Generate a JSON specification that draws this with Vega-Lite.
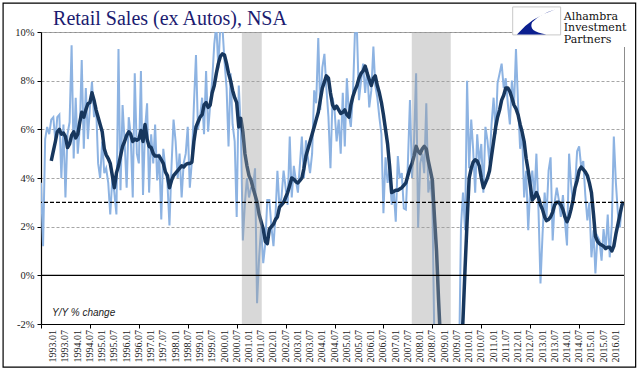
{
  "$schema": "https://vega.github.io/schema/vega-lite/v6.json",
  "width": 583,
  "height": 292,
  "autosize": {"type": "none"},
  "padding": {"left": 41, "top": 32, "right": 17, "bottom": 51},
  "background": "white",
  "config": {
    "view": {"stroke": "#8c8c8c", "strokeWidth": 1},
    "axis": {"domainColor": "#000", "tickColor": "#000", "labelColor": "#222", "labelFont": "Liberation Serif", "tickSize": 4, "domainWidth": 1.2},
    "axisX": {"labels": false, "grid": false},
    "axisY": {"labelFontSize": 10.5, "labelPadding": 3, "gridColor": "#a6a6a6", "gridDash": [3, 2], "gridWidth": 1}
  },
  "datasets": {
    "series": [
      {"d":"1992-07-01","l":3.8},{"d":"1992-08-01","l":1.2},{"d":"1992-09-01","l":5.6},{"d":"1992-10-01","l":6.1},{"d":"1992-11-01","l":5.8},{"d":"1992-12-01","l":6.4,"a":4.7},
      {"d":"1993-01-01","l":6.5,"a":5.1},{"d":"1993-02-01","l":5.5,"a":5.5},{"d":"1993-03-01","l":6.5,"a":5.9},{"d":"1993-04-01","l":6.6,"a":6.0},{"d":"1993-05-01","l":4.0,"a":5.8},{"d":"1993-06-01","l":6.2,"a":5.85},{"d":"1993-07-01","l":3.2,"a":5.7},{"d":"1993-08-01","l":5.8,"a":5.25},{"d":"1993-09-01","l":6.3,"a":5.4},{"d":"1993-10-01","l":9.45,"a":5.75},{"d":"1993-11-01","l":4.8,"a":5.9},{"d":"1993-12-01","l":7.3,"a":5.65},
      {"d":"1994-01-01","l":5.0,"a":5.8},{"d":"1994-02-01","l":6.1,"a":6.3},{"d":"1994-03-01","l":8.85,"a":6.7},{"d":"1994-04-01","l":5.2,"a":6.5},{"d":"1994-05-01","l":7.7,"a":6.8},{"d":"1994-06-01","l":5.6,"a":7.05},{"d":"1994-07-01","l":6.9,"a":7.1},{"d":"1994-08-01","l":7.95,"a":7.5},{"d":"1994-09-01","l":6.5,"a":7.2},{"d":"1994-10-01","l":7.0,"a":6.8},{"d":"1994-11-01","l":4.6,"a":6.5},{"d":"1994-12-01","l":4.0,"a":6.2},
      {"d":"1995-01-01","l":5.5,"a":5.9},{"d":"1995-02-01","l":4.2,"a":5.2},{"d":"1995-03-01","l":4.4,"a":4.95},{"d":"1995-04-01","l":3.8,"a":4.8},{"d":"1995-05-01","l":2.5,"a":4.6},{"d":"1995-06-01","l":4.0,"a":4.1},{"d":"1995-07-01","l":3.4,"a":3.6},{"d":"1995-08-01","l":2.5,"a":4.2},{"d":"1995-09-01","l":9.3,"a":4.5},{"d":"1995-10-01","l":3.5,"a":4.9},{"d":"1995-11-01","l":7.0,"a":5.3},{"d":"1995-12-01","l":5.5,"a":5.5},
      {"d":"1996-01-01","l":3.6,"a":5.75},{"d":"1996-02-01","l":6.5,"a":5.9},{"d":"1996-03-01","l":5.8,"a":5.8},{"d":"1996-04-01","l":3.2,"a":5.5},{"d":"1996-05-01","l":8.3,"a":5.6},{"d":"1996-06-01","l":5.0,"a":5.55},{"d":"1996-07-01","l":4.6,"a":5.6},{"d":"1996-08-01","l":8.4,"a":5.95},{"d":"1996-09-01","l":3.3,"a":5.5},{"d":"1996-10-01","l":6.0,"a":6.2},{"d":"1996-11-01","l":7.07,"a":5.6},{"d":"1996-12-01","l":3.4,"a":5.3},
      {"d":"1997-01-01","l":5.8,"a":5.25},{"d":"1997-02-01","l":4.6,"a":5.0},{"d":"1997-03-01","l":6.2,"a":4.9},{"d":"1997-04-01","l":3.9,"a":4.9},{"d":"1997-05-01","l":5.0,"a":4.9},{"d":"1997-06-01","l":2.3,"a":4.75},{"d":"1997-07-01","l":5.2,"a":4.6},{"d":"1997-08-01","l":4.4,"a":4.25},{"d":"1997-09-01","l":3.8,"a":4.1},{"d":"1997-10-01","l":2.05,"a":3.6},{"d":"1997-11-01","l":4.5,"a":3.9},{"d":"1997-12-01","l":6.4,"a":4.1},
      {"d":"1998-01-01","l":5.5,"a":4.2},{"d":"1998-02-01","l":4.0,"a":4.3},{"d":"1998-03-01","l":5.0,"a":4.4},{"d":"1998-04-01","l":3.2,"a":4.5},{"d":"1998-05-01","l":4.6,"a":4.45},{"d":"1998-06-01","l":5.0,"a":4.55},{"d":"1998-07-01","l":6.1,"a":4.6},{"d":"1998-08-01","l":3.6,"a":4.6},{"d":"1998-09-01","l":4.7,"a":4.65},{"d":"1998-10-01","l":7.0,"a":5.5},{"d":"1998-11-01","l":9.05,"a":6.1},{"d":"1998-12-01","l":6.0,"a":6.3},
      {"d":"1999-01-01","l":6.5,"a":6.5},{"d":"1999-02-01","l":7.3,"a":6.6},{"d":"1999-03-01","l":5.8,"a":7.0},{"d":"1999-04-01","l":8.4,"a":7.1},{"d":"1999-05-01","l":5.9,"a":6.9},{"d":"1999-06-01","l":7.0,"a":7.0},{"d":"1999-07-01","l":8.0,"a":7.5},{"d":"1999-08-01","l":9.5,"a":7.8},{"d":"1999-09-01","l":10.3,"a":8.3},{"d":"1999-10-01","l":8.5,"a":8.7},{"d":"1999-11-01","l":10.4,"a":9.0},{"d":"1999-12-01","l":10.2,"a":9.1},
      {"d":"2000-01-01","l":8.8,"a":9.05},{"d":"2000-02-01","l":7.7,"a":8.7},{"d":"2000-03-01","l":5.3,"a":8.3},{"d":"2000-04-01","l":8.3,"a":8.0},{"d":"2000-05-01","l":6.2,"a":7.6},{"d":"2000-06-01","l":5.5,"a":7.3},{"d":"2000-07-01","l":2.4,"a":7.1},{"d":"2000-08-01","l":7.8,"a":6.1},{"d":"2000-09-01","l":6.0,"a":6.45},{"d":"2000-10-01","l":1.43,"a":5.9},{"d":"2000-11-01","l":3.0,"a":5.0},{"d":"2000-12-01","l":4.0,"a":4.5},
      {"d":"2001-01-01","l":3.2,"a":4.1},{"d":"2001-02-01","l":3.6,"a":3.9},{"d":"2001-03-01","l":3.6,"a":3.6},{"d":"2001-04-01","l":4.4,"a":3.3},{"d":"2001-05-01","l":-1.15,"a":3.0},{"d":"2001-06-01","l":0.75,"a":2.5},{"d":"2001-07-01","l":2.0,"a":2.2},{"d":"2001-08-01","l":0.5,"a":1.9},{"d":"2001-09-01","l":1.3,"a":1.4},{"d":"2001-10-01","l":3.1,"a":1.3},{"d":"2001-11-01","l":3.1,"a":1.9},{"d":"2001-12-01","l":2.0,"a":2.0},
      {"d":"2002-01-01","l":1.2,"a":2.1},{"d":"2002-02-01","l":2.5,"a":2.3},{"d":"2002-03-01","l":4.3,"a":2.4},{"d":"2002-04-01","l":2.8,"a":2.8},{"d":"2002-05-01","l":3.2,"a":2.9},{"d":"2002-06-01","l":4.3,"a":3.0},{"d":"2002-07-01","l":3.6,"a":3.2},{"d":"2002-08-01","l":2.9,"a":3.4},{"d":"2002-09-01","l":5.7,"a":3.7},{"d":"2002-10-01","l":3.2,"a":4.0},{"d":"2002-11-01","l":4.5,"a":3.95},{"d":"2002-12-01","l":3.9,"a":3.85},
      {"d":"2003-01-01","l":3.4,"a":3.8},{"d":"2003-02-01","l":4.6,"a":3.9},{"d":"2003-03-01","l":5.7,"a":4.0},{"d":"2003-04-01","l":4.0,"a":4.4},{"d":"2003-05-01","l":5.55,"a":4.9},{"d":"2003-06-01","l":4.8,"a":5.2},{"d":"2003-07-01","l":4.2,"a":5.5},{"d":"2003-08-01","l":5.0,"a":5.8},{"d":"2003-09-01","l":7.6,"a":6.1},{"d":"2003-10-01","l":7.07,"a":6.4},{"d":"2003-11-01","l":9.75,"a":6.7},{"d":"2003-12-01","l":6.8,"a":7.2},
      {"d":"2004-01-01","l":8.55,"a":7.7},{"d":"2004-02-01","l":9.1,"a":7.95},{"d":"2004-03-01","l":7.7,"a":8.2},{"d":"2004-04-01","l":6.5,"a":8.1},{"d":"2004-05-01","l":4.4,"a":7.5},{"d":"2004-06-01","l":7.3,"a":7.0},{"d":"2004-07-01","l":6.8,"a":6.85},{"d":"2004-08-01","l":5.5,"a":6.95},{"d":"2004-09-01","l":6.4,"a":6.8},{"d":"2004-10-01","l":5.0,"a":6.65},{"d":"2004-11-01","l":7.5,"a":6.7},{"d":"2004-12-01","l":5.3,"a":6.8},
      {"d":"2005-01-01","l":8.1,"a":6.6},{"d":"2005-02-01","l":6.6,"a":6.5},{"d":"2005-03-01","l":6.1,"a":7.0},{"d":"2005-04-01","l":7.4,"a":7.35},{"d":"2005-05-01","l":9.95,"a":7.6},{"d":"2005-06-01","l":10.0,"a":7.8},{"d":"2005-07-01","l":7.2,"a":8.1},{"d":"2005-08-01","l":8.0,"a":8.3},{"d":"2005-09-01","l":8.7,"a":8.4},{"d":"2005-10-01","l":7.5,"a":8.6},{"d":"2005-11-01","l":8.5,"a":8.3},{"d":"2005-12-01","l":6.9,"a":8.05},
      {"d":"2006-01-01","l":7.6,"a":7.8},{"d":"2006-02-01","l":9.4,"a":8.1},{"d":"2006-03-01","l":7.8,"a":8.2},{"d":"2006-04-01","l":7.3,"a":7.8},{"d":"2006-05-01","l":6.5,"a":7.5},{"d":"2006-06-01","l":5.8,"a":7.1},{"d":"2006-07-01","l":2.55,"a":6.6},{"d":"2006-08-01","l":4.85,"a":6.0},{"d":"2006-09-01","l":3.8,"a":5.4},{"d":"2006-10-01","l":4.3,"a":4.5},{"d":"2006-11-01","l":2.9,"a":3.4},{"d":"2006-12-01","l":3.5,"a":3.45},
      {"d":"2007-01-01","l":2.2,"a":3.5},{"d":"2007-02-01","l":4.9,"a":3.5},{"d":"2007-03-01","l":4.0,"a":3.55},{"d":"2007-04-01","l":4.2,"a":3.6},{"d":"2007-05-01","l":2.75,"a":3.7},{"d":"2007-06-01","l":2.7,"a":3.8},{"d":"2007-07-01","l":4.6,"a":4.1},{"d":"2007-08-01","l":7.2,"a":4.4},{"d":"2007-09-01","l":4.0,"a":4.6},{"d":"2007-10-01","l":5.5,"a":4.9},{"d":"2007-11-01","l":8.3,"a":5.3},{"d":"2007-12-01","l":1.97,"a":5.1},
      {"d":"2008-01-01","l":4.6,"a":5.0},{"d":"2008-02-01","l":5.0,"a":5.2},{"d":"2008-03-01","l":4.2,"a":5.3},{"d":"2008-04-01","l":7.07,"a":5.2},{"d":"2008-05-01","l":3.4,"a":4.7},{"d":"2008-06-01","l":3.9,"a":4.3},{"d":"2008-07-01","l":3.0,"a":3.9},{"d":"2008-08-01","l":-3.0,"a":2.4},{"d":"2008-09-01","l":-6.5,"a":1.0},{"d":"2008-10-01","l":-8,"a":-1.0},{"d":"2008-11-01","l":-9,"a":-2.8},{"d":"2008-12-01","l":-9.5,"a":-4.6},
      {"d":"2009-01-01","l":-10,"a":-6},{"d":"2009-02-01","l":-9.5,"a":-7},{"d":"2009-03-01","l":-9,"a":-7.5},{"d":"2009-04-01","l":-8.5,"a":-7.5},{"d":"2009-05-01","l":-8,"a":-7},{"d":"2009-06-01","l":-7,"a":-6.5},{"d":"2009-07-01","l":-6,"a":-6},{"d":"2009-08-01","l":-4,"a":-5.2},{"d":"2009-09-01","l":2.0,"a":-3.6},{"d":"2009-10-01","l":3.4,"a":-1.8},{"d":"2009-11-01","l":1.85,"a":0.3},{"d":"2009-12-01","l":8.0,"a":2.2},
      {"d":"2010-01-01","l":4.4,"a":4.0},{"d":"2010-02-01","l":6.4,"a":4.4},{"d":"2010-03-01","l":5.2,"a":4.65},{"d":"2010-04-01","l":3.4,"a":4.75},{"d":"2010-05-01","l":5.8,"a":4.7},{"d":"2010-06-01","l":4.6,"a":4.5},{"d":"2010-07-01","l":5.4,"a":4.0},{"d":"2010-08-01","l":3.4,"a":3.6},{"d":"2010-09-01","l":6.1,"a":3.8},{"d":"2010-10-01","l":5.55,"a":4.0},{"d":"2010-11-01","l":4.6,"a":4.3},{"d":"2010-12-01","l":6.2,"a":4.9},
      {"d":"2011-01-01","l":7.3,"a":5.5},{"d":"2011-02-01","l":5.8,"a":6.1},{"d":"2011-03-01","l":7.9,"a":6.5},{"d":"2011-04-01","l":8.3,"a":6.8},{"d":"2011-05-01","l":8.7,"a":7.2},{"d":"2011-06-01","l":7.7,"a":7.4},{"d":"2011-07-01","l":8.1,"a":7.7},{"d":"2011-08-01","l":7.07,"a":7.7},{"d":"2011-09-01","l":6.2,"a":7.55},{"d":"2011-10-01","l":8.0,"a":7.3},{"d":"2011-11-01","l":6.9,"a":7.0},{"d":"2011-12-01","l":9.3,"a":6.85},
      {"d":"2012-01-01","l":7.07,"a":6.6},{"d":"2012-02-01","l":5.2,"a":6.2},{"d":"2012-03-01","l":6.0,"a":5.9},{"d":"2012-04-01","l":3.2,"a":5.5},{"d":"2012-05-01","l":4.3,"a":4.8},{"d":"2012-06-01","l":1.85,"a":4.3},{"d":"2012-07-01","l":3.6,"a":3.7},{"d":"2012-08-01","l":4.3,"a":3.1},{"d":"2012-09-01","l":3.2,"a":3.2},{"d":"2012-10-01","l":5.0,"a":3.4},{"d":"2012-11-01","l":2.7,"a":3.2},{"d":"2012-12-01","l":-0.33,"a":2.9},
      {"d":"2013-01-01","l":1.7,"a":2.7},{"d":"2013-02-01","l":3.4,"a":2.4},{"d":"2013-03-01","l":2.4,"a":2.25},{"d":"2013-04-01","l":4.3,"a":2.3},{"d":"2013-05-01","l":4.85,"a":2.4},{"d":"2013-06-01","l":1.43,"a":2.6},{"d":"2013-07-01","l":3.0,"a":2.9},{"d":"2013-08-01","l":3.6,"a":3.0},{"d":"2013-09-01","l":3.1,"a":3.0},{"d":"2013-10-01","l":2.4,"a":2.9},{"d":"2013-11-01","l":3.3,"a":2.7},{"d":"2013-12-01","l":2.2,"a":2.4},
      {"d":"2014-01-01","l":1.23,"a":2.2},{"d":"2014-02-01","l":5.0,"a":2.4},{"d":"2014-03-01","l":3.8,"a":2.7},{"d":"2014-04-01","l":2.9,"a":3.1},{"d":"2014-05-01","l":3.6,"a":3.6},{"d":"2014-06-01","l":5.1,"a":3.9},{"d":"2014-07-01","l":5.3,"a":4.3},{"d":"2014-08-01","l":4.45,"a":4.45},{"d":"2014-09-01","l":4.7,"a":4.35},{"d":"2014-10-01","l":3.3,"a":4.25},{"d":"2014-11-01","l":2.26,"a":4.1},{"d":"2014-12-01","l":3.0,"a":3.8},
      {"d":"2015-01-01","l":0.74,"a":3.4},{"d":"2015-02-01","l":1.85,"a":2.5},{"d":"2015-03-01","l":0.08,"a":1.6},{"d":"2015-04-01","l":1.6,"a":1.4},{"d":"2015-05-01","l":1.43,"a":1.3},{"d":"2015-06-01","l":0.6,"a":1.25},{"d":"2015-07-01","l":1.9,"a":1.2},{"d":"2015-08-01","l":1.03,"a":1.1},{"d":"2015-09-01","l":2.5,"a":1.15},{"d":"2015-10-01","l":0.74,"a":1.15},{"d":"2015-11-01","l":2.1,"a":1.0},{"d":"2015-12-01","l":5.7,"a":1.2},
      {"d":"2016-01-01","l":3.8,"a":1.7},{"d":"2016-02-01","l":2.5,"a":2.1},{"d":"2016-03-01","l":1.97,"a":2.5},{"d":"2016-04-01","l":3.0,"a":2.9},{"d":"2016-05-01","l":2.9,"a":3.0}
    ],
    "bands": [
      {"s": "2000-09-16", "e": "2001-07-10"},
      {"s": "2007-08-28", "e": "2009-04-01"}
    ],
    "ticks": [
      {"t":"1993-01-01","lab":"1993.01"},{"t":"1993-07-01","lab":"1993.07"},{"t":"1994-01-01","lab":"1994.01"},{"t":"1994-07-01","lab":"1994.07"},
      {"t":"1995-01-01","lab":"1995.01"},{"t":"1995-07-01","lab":"1995.07"},{"t":"1996-01-01","lab":"1996.01"},{"t":"1996-07-01","lab":"1996.07"},
      {"t":"1997-01-01","lab":"1997.01"},{"t":"1997-07-01","lab":"1997.07"},{"t":"1998-01-01","lab":"1998.01"},{"t":"1998-07-01","lab":"1998.07"},
      {"t":"1999-01-01","lab":"1999.01"},{"t":"1999-07-01","lab":"1999.07"},{"t":"2000-01-01","lab":"2000.01"},{"t":"2000-07-01","lab":"2000.07"},
      {"t":"2001-01-01","lab":"2001.01"},{"t":"2001-07-01","lab":"2001.07"},{"t":"2002-01-01","lab":"2002.01"},{"t":"2002-07-01","lab":"2002.07"},
      {"t":"2003-01-01","lab":"2003.01"},{"t":"2003-07-01","lab":"2003.07"},{"t":"2004-01-01","lab":"2004.01"},{"t":"2004-07-01","lab":"2004.07"},
      {"t":"2005-01-01","lab":"2005.01"},{"t":"2005-07-01","lab":"2005.07"},{"t":"2006-01-01","lab":"2006.01"},{"t":"2006-07-01","lab":"2006.07"},
      {"t":"2007-01-01","lab":"2007.01"},{"t":"2007-07-01","lab":"2007.07"},{"t":"2008-01-01","lab":"2008.01"},{"t":"2008-07-01","lab":"2008.07"},
      {"t":"2009-01-01","lab":"2009.01"},{"t":"2009-07-01","lab":"2009.07"},{"t":"2010-01-01","lab":"2010.01"},{"t":"2010-07-01","lab":"2010.07"},
      {"t":"2011-01-01","lab":"2011.01"},{"t":"2011-07-01","lab":"2011.07"},{"t":"2012-01-01","lab":"2012.01"},{"t":"2012-07-01","lab":"2012.07"},
      {"t":"2013-01-01","lab":"2013.01"},{"t":"2013-07-01","lab":"2013.07"},{"t":"2014-01-01","lab":"2014.01"},{"t":"2014-07-01","lab":"2014.07"},
      {"t":"2015-01-01","lab":"2015.01"},{"t":"2015-07-01","lab":"2015.07"},{"t":"2016-01-01","lab":"2016.01"}
    ]
  },
  "layer": [
    {
      "data": {"name": "series"},
      "mark": {"type": "line", "color": "#8db3e2", "strokeWidth": 2, "clip": true},
      "encoding": {
        "x": {
          "field": "d", "type": "temporal", "title": null,
          "scale": {"type": "utc", "nice": false, "domain": [{"year": 1992, "month": 7, "date": 1, "utc": true}, {"year": 2016, "month": 5, "date": 1, "utc": true}]},
          "axis": {
            "labels": false,
            "values": [
              {"year":1992,"month":7,"date":1,"utc":true},
              {"year":1993,"month":1,"date":1,"utc":true},{"year":1993,"month":7,"date":1,"utc":true},
              {"year":1994,"month":1,"date":1,"utc":true},{"year":1994,"month":7,"date":1,"utc":true},
              {"year":1995,"month":1,"date":1,"utc":true},{"year":1995,"month":7,"date":1,"utc":true},
              {"year":1996,"month":1,"date":1,"utc":true},{"year":1996,"month":7,"date":1,"utc":true},
              {"year":1997,"month":1,"date":1,"utc":true},{"year":1997,"month":7,"date":1,"utc":true},
              {"year":1998,"month":1,"date":1,"utc":true},{"year":1998,"month":7,"date":1,"utc":true},
              {"year":1999,"month":1,"date":1,"utc":true},{"year":1999,"month":7,"date":1,"utc":true},
              {"year":2000,"month":1,"date":1,"utc":true},{"year":2000,"month":7,"date":1,"utc":true},
              {"year":2001,"month":1,"date":1,"utc":true},{"year":2001,"month":7,"date":1,"utc":true},
              {"year":2002,"month":1,"date":1,"utc":true},{"year":2002,"month":7,"date":1,"utc":true},
              {"year":2003,"month":1,"date":1,"utc":true},{"year":2003,"month":7,"date":1,"utc":true},
              {"year":2004,"month":1,"date":1,"utc":true},{"year":2004,"month":7,"date":1,"utc":true},
              {"year":2005,"month":1,"date":1,"utc":true},{"year":2005,"month":7,"date":1,"utc":true},
              {"year":2006,"month":1,"date":1,"utc":true},{"year":2006,"month":7,"date":1,"utc":true},
              {"year":2007,"month":1,"date":1,"utc":true},{"year":2007,"month":7,"date":1,"utc":true},
              {"year":2008,"month":1,"date":1,"utc":true},{"year":2008,"month":7,"date":1,"utc":true},
              {"year":2009,"month":1,"date":1,"utc":true},{"year":2009,"month":7,"date":1,"utc":true},
              {"year":2010,"month":1,"date":1,"utc":true},{"year":2010,"month":7,"date":1,"utc":true},
              {"year":2011,"month":1,"date":1,"utc":true},{"year":2011,"month":7,"date":1,"utc":true},
              {"year":2012,"month":1,"date":1,"utc":true},{"year":2012,"month":7,"date":1,"utc":true},
              {"year":2013,"month":1,"date":1,"utc":true},{"year":2013,"month":7,"date":1,"utc":true},
              {"year":2014,"month":1,"date":1,"utc":true},{"year":2014,"month":7,"date":1,"utc":true},
              {"year":2015,"month":1,"date":1,"utc":true},{"year":2015,"month":7,"date":1,"utc":true},
              {"year":2016,"month":1,"date":1,"utc":true}
            ]
          }
        },
        "y": {
          "field": "l", "type": "quantitative", "title": null,
          "scale": {"domain": [-2, 10], "nice": false, "zero": false},
          "axis": {"values": [-2, 0, 2, 4, 6, 8, 10], "labelExpr": "datum.value + '%'"}
        }
      }
    },
    {
      "data": {"name": "series"},
      "mark": {"type": "line", "color": "#17375e", "strokeWidth": 3.5, "clip": true, "strokeJoin": "round"},
      "encoding": {
        "x": {"field": "d", "type": "temporal", "title": null},
        "y": {"field": "a", "type": "quantitative", "title": null}
      }
    },
    {
      "data": {"name": "bands"},
      "mark": {"type": "rect", "color": "#9d9d9d", "opacity": 0.4},
      "encoding": {
        "x": {"field": "s", "type": "temporal", "title": null},
        "x2": {"field": "e"}
      }
    },
    {
      "data": {"values": [{}]},
      "mark": {"type": "rule", "color": "#000", "strokeWidth": 1.3},
      "encoding": {"y": {"datum": 0, "type": "quantitative"}}
    },
    {
      "data": {"values": [{}]},
      "mark": {"type": "rule", "color": "#000", "strokeWidth": 1.3, "strokeDash": [4, 2]},
      "encoding": {"y": {"datum": 3, "type": "quantitative"}}
    },
    {
      "data": {"name": "ticks"},
      "mark": {"type": "text", "angle": 270, "align": "right", "baseline": "middle", "font": "Liberation Serif", "fontSize": 10, "color": "#222"},
      "encoding": {
        "x": {"field": "t", "type": "temporal", "title": null},
        "y": {"datum": -2.25, "type": "quantitative"},
        "text": {"field": "lab", "type": "nominal"}
      }
    },
    {
      "data": {"values": [{}]},
      "mark": {"type": "text", "text": "Y/Y % change", "font": "Liberation Sans", "fontStyle": "italic", "fontSize": 10, "align": "left", "baseline": "alphabetic", "color": "#222"},
      "encoding": {
        "x": {"datum": {"year": 1992, "month": 12, "date": 13, "utc": true}, "type": "temporal"},
        "y": {"datum": -1.67, "type": "quantitative"}
      }
    },
    {
      "data": {"values": [{}]},
      "mark": {"type": "rect", "fill": "white", "strokeWidth": 0},
      "encoding": {
        "x": {"datum": {"year": 2011, "month": 10, "date": 13, "utc": true}, "type": "temporal"},
        "x2": {"datum": {"year": 2016, "month": 10, "date": 6, "utc": true}},
        "y": {"datum": 11.17, "type": "quantitative"},
        "y2": {"datum": 9.38}
      }
    },
    {
      "data": {"values": [{}]},
      "mark": {"type": "rect", "fill": "white", "stroke": "#c8c8c8", "strokeWidth": 1},
      "encoding": {
        "x": {"datum": {"year": 2011, "month": 10, "date": 13, "utc": true}, "type": "temporal"},
        "x2": {"datum": {"year": 2013, "month": 9, "date": 28, "utc": true}},
        "y": {"datum": 11.03, "type": "quantitative"},
        "y2": {"datum": 9.88}
      }
    },
    {
      "data": {"values": [{}]},
      "mark": {"type": "point", "filled": true, "color": "#0b1f8f", "opacity": 1, "size": 2116, "shape": "M0.87,-0.51 Q-0.2,-0.15 -0.81,0.58 L0.46,0.58 Q-0.35,0.45 -0.15,0.05 Q0.2,-0.3 0.87,-0.51 Z"},
      "encoding": {
        "x": {"datum": {"year": 2012, "month": 9, "date": 19, "utc": true}, "type": "temporal"},
        "y": {"datum": 10.45, "type": "quantitative"}
      }
    },
    {
      "data": {"values": [{}]},
      "mark": {"type": "text", "text": ["Alhambra", "Investment", "Partners"], "font": "DejaVu Serif", "fontSize": 11, "lineHeight": 11.6, "align": "left", "baseline": "alphabetic", "color": "#111"},
      "encoding": {
        "x": {"datum": {"year": 2013, "month": 11, "date": 13, "utc": true}, "type": "temporal"},
        "y": {"datum": 10.51, "type": "quantitative"}
      }
    },
    {
      "data": {"values": [{}]},
      "mark": {"type": "text", "text": "Retail Sales (ex Autos), NSA", "font": "Liberation Serif", "fontSize": 20, "align": "left", "baseline": "alphabetic", "color": "#1b1b70"},
      "encoding": {
        "x": {"datum": {"year": 1992, "month": 12, "date": 28, "utc": true}, "type": "temporal"},
        "y": {"datum": 10.29, "type": "quantitative"}
      }
    },
    {
      "data": {"values": [{}]},
      "mark": {"type": "rect", "fillOpacity": 0, "stroke": "#000", "strokeWidth": 1.2},
      "encoding": {
        "x": {"datum": {"year": 1990, "month": 12, "date": 13, "utc": true}, "type": "temporal"},
        "x2": {"datum": {"year": 2016, "month": 10, "date": 22, "utc": true}},
        "y": {"datum": 11.19, "type": "quantitative"},
        "y2": {"datum": -3.77}
      }
    }
  ]
}
